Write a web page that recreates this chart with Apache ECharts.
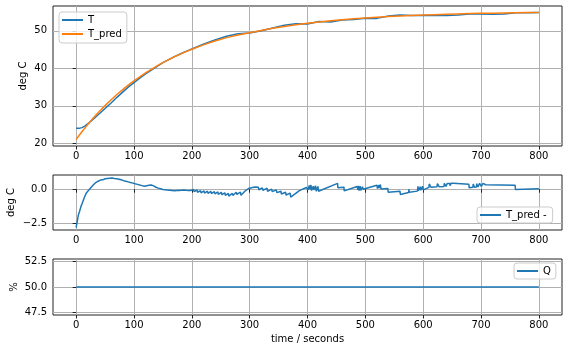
<!DOCTYPE html>
<html>
<head>
<meta charset="utf-8">
<script src="https://cdn.jsdelivr.net/npm/echarts@6/dist/echarts.min.js"></script>
<style>
html,body{margin:0;padding:0;background:#fff;}
#chart{width:568px;height:352px;}
</style>
</head>
<body>
<div id="chart"></div>
<script>
// ---- data ----
const xTicks = [0, 100, 200, 300, 400, 500, 600, 700, 800];
const yTicksT = [20, 30, 40, 50];
const yTicksErr = [-2.5, 0];
const yTicksQ = [47.5, 50, 52.5];

const tTime = [0,5,10,15,20,30,40,50,60,70,80,90,100,110,120,130,140,150,160,170,180,190,200,220,240,260,280,300,320,340,360,380,400,420,440,460,480,500,520,540,560,580,600,620,640,660,680,700,720,740,760,780,800];
const T = [24.0,24.0,24.2,24.6,25.2,26.5,27.9,29.3,30.7,32.2,33.6,35.0,36.2,37.4,38.5,39.5,40.5,41.5,42.3,43.1,43.8,44.5,45.15,46.4,47.55,48.55,49.2,49.4,50.0,50.75,51.5,51.9,51.8,52.45,52.35,52.9,53.0,53.35,53.3,53.95,54.2,54.1,54.05,54.05,54.05,54.2,54.5,54.45,54.4,54.45,54.8,54.82,54.85];

const predTime = [0,5,10,20,30,40,50,60,70,80,90,100,110,120,130,140,150,160,170,180,190,200,220,240,260,280,300,320,340,360,380,400,420,440,460,480,500,520,540,560,580,600,620,640,660,680,700,720,740,760,780,800];
const T_pred = [21.0,22.1,23.1,25.0,26.8,28.5,30.05,31.55,32.95,34.25,35.5,36.65,37.74,38.77,39.74,40.64,41.5,42.31,43.07,43.78,44.45,45.08,46.24,47.26,48.17,48.9,49.5,50.1,50.65,51.15,51.6,52.0,52.35,52.65,52.93,53.18,53.4,53.6,53.77,53.93,54.07,54.19,54.3,54.4,54.49,54.57,54.64,54.7,54.75,54.8,54.84,54.88];

const errTime = [0,2,4,6,8,10,12,14,16,18,20,22,24,26,28,30,32,34,36,38,40,42,44,46,48,50,52,54,56,58,60,62,64,66,68,70,72,74,76,78,80,82,84,86,88,90,92,94,96,98,100,102,104,106,108,110,112,114,116,118,120,122,124,126,128,130,132,134,136,138,140,142,144,146,148,150,152,154,156,158,160,162,164,166,168,170,172,174,176,178,180,182,184,186,188,190,192,194,196,198,200,
203,204,209,210,215,216,221,222,227,228,233,234,239,240,245,246,251,252,257,258,263,264,270,271,277,278,284,285,293,298,300,301,305,306,310,311,315,316,322,323,330,331,338,339,346,347,354,355,362,363,370,371,386,398,
400,401,403,404,406,407,410,411,414,415,418,419,452,452.5,463,463.5,486,487,488,489,491,492,495,496,520,521,523,524,526,527,539,539.5,560,560.5,575,575.3,576,590,591,592,595,596,599,600,
610,610.5,613,613.5,624,624.5,627,627.5,636,636.5,639,639.5,641,641.5,646,646.5,648,648.5,652,653,679,679.5,686,686.5,688,688.5,692,692.5,694,694.5,697,697.5,700,700.5,703,703.5,706,708,759,759.5,800];
const errValue = [-2.78,-2.3,-1.85,-1.6,-1.3,-1.08,-0.85,-0.62,-0.42,-0.25,-0.14,-0.06,0.06,0.14,0.24,0.32,0.42,0.48,0.55,0.58,0.63,0.66,0.70,0.68,0.75,0.76,0.80,0.78,0.83,0.80,0.84,0.81,0.85,0.78,0.82,0.76,0.80,0.72,0.74,0.68,0.71,0.62,0.66,0.58,0.60,0.53,0.56,0.48,0.51,0.44,0.46,0.39,0.42,0.35,0.37,0.30,0.33,0.26,0.29,0.22,0.27,0.25,0.33,0.28,0.35,0.30,0.33,0.24,0.22,0.14,0.16,0.08,0.10,0.03,0.06,-0.02,0.03,-0.04,0.02,-0.06,0.00,-0.08,-0.02,-0.10,-0.04,-0.12,-0.05,-0.10,-0.02,-0.09,0.00,-0.07,0.02,-0.06,0.01,-0.08,0.00,-0.09,-0.02,-0.10,-0.04,
-0.02,-0.18,-0.06,-0.22,-0.10,-0.26,-0.12,-0.28,-0.14,-0.30,-0.16,-0.32,-0.18,-0.34,-0.20,-0.38,-0.22,-0.40,-0.26,-0.44,-0.30,-0.50,-0.30,-0.45,-0.22,-0.38,-0.22,-0.44,-0.10,0.05,0.10,-0.02,0.12,0.00,0.16,0.02,0.14,-0.04,0.10,-0.08,0.08,-0.15,0.00,-0.18,-0.05,-0.25,-0.15,-0.35,-0.22,-0.42,-0.28,-0.57,-0.10,0.12,
0.20,-0.05,0.28,0.00,0.30,-0.10,0.22,-0.05,0.25,-0.15,0.20,-0.15,0.42,0.10,0.15,-0.12,0.20,-0.05,0.25,-0.10,0.22,-0.08,0.18,0.00,0.28,0.05,0.30,0.08,0.34,0.02,0.05,-0.22,-0.15,-0.38,-0.24,0.00,-0.22,-0.14,0.20,-0.10,0.18,-0.08,0.22,-0.05,
0.13,0.38,0.38,0.14,0.18,0.40,0.40,0.18,0.20,0.42,0.42,0.20,0.20,0.42,0.42,0.25,0.25,0.44,0.44,0.30,0.36,0.10,0.14,0.38,0.38,0.15,0.16,0.40,0.40,0.16,0.18,0.42,0.42,0.20,0.20,0.42,0.42,0.32,0.28,-0.02,0.03];

const qTime = [0, 800];
const Q = [50, 50];

// ---- chart ----
const FONT = 'DejaVu Sans';
const BLUE = '#1f77b4', ORANGE = '#ff7f0e';
const zip = (a, b) => a.map((v, i) => [v, b[i]]);
const fmtMinus = v => String(v).replace('-', '\u2212');

function xAxisFor(gridIndex, withName) {
  return {
    type: 'value', gridIndex, min: -40, max: 840,
    axisLine: {show: false},
    axisTick: {show: true, length: 3.5, lineStyle: {color: '#222', width: 1}, customValues: xTicks},
    axisLabel: {customValues: xTicks, color: '#000', fontFamily: FONT, fontSize: 10, margin: 5},
    splitLine: {show: true, lineStyle: {color: '#b0b0b0', width: 1}},
    name: withName ? 'time / seconds' : '',
    nameLocation: 'middle', nameGap: 19, nameMoveOverlap: false,
    nameTextStyle: {color: '#000', fontFamily: FONT, fontSize: 10}
  };
}
function yAxisFor(gridIndex, min, max, ticks, fmt, name, gap) {
  return {
    type: 'value', gridIndex, min, max,
    axisLine: {show: false},
    axisTick: {show: true, length: 3.5, lineStyle: {color: '#222', width: 1}, customValues: ticks},
    axisLabel: {customValues: ticks, formatter: fmt, color: '#000', fontFamily: FONT, fontSize: 10, margin: 6},
    splitLine: {show: true, lineStyle: {color: '#b0b0b0', width: 1}},
    name, nameLocation: 'middle', nameGap: gap, nameRotate: 90, nameMoveOverlap: false,
    nameTextStyle: {color: '#000', fontFamily: FONT, fontSize: 10}
  };
}
const legendBase = {
  icon: 'rect', itemWidth: 21, itemHeight: 2, itemGap: 4,
  borderColor: '#cccccc', borderWidth: 1, borderRadius: 3,
  backgroundColor: 'rgba(255,255,255,0.8)',
  textStyle: {color: '#000', fontFamily: FONT, fontSize: 10},
  selectedMode: false
};
const gridBase = {show: true, borderColor: '#222', borderWidth: 1, backgroundColor: 'transparent',
  containLabel: false, outerBoundsMode: 'none'};

const option = {
  animation: false,
  backgroundColor: '#fff',
  grid: [
    Object.assign({left: 53, top: 6, width: 509, height: 140}, gridBase),
    Object.assign({left: 53, top: 175, width: 509, height: 55}, gridBase),
    Object.assign({left: 53, top: 259, width: 509, height: 56}, gridBase)
  ],
  xAxis: [xAxisFor(0, false), xAxisFor(1, false), xAxisFor(2, true)],
  yAxis: [
    yAxisFor(0, 19.3, 56.6, yTicksT, v => String(v), 'deg C', 25),
    yAxisFor(1, -2.96, 1.03, yTicksErr, v => fmtMinus(v.toFixed(1)), 'deg C', 37),
    yAxisFor(2, 47.25, 52.75, yTicksQ, v => v.toFixed(1), '%', 34)
  ],
  legend: [
    Object.assign({}, legendBase, {orient: 'vertical', left: 59, top: 12, padding: [3, 5, 4, 3], data: ['T', 'T_pred']}),
    Object.assign({}, legendBase, {orient: 'vertical', left: 477, top: 207, padding: [3, 6, 3, 3], data: ['T_pred -']}),
    Object.assign({}, legendBase, {orient: 'vertical', left: 514, top: 263, padding: [3, 5, 3, 3], data: ['Q']})
  ],
  series: [
    {name: 'T', type: 'line', xAxisIndex: 0, yAxisIndex: 0, data: zip(tTime, T), showSymbol: false, symbol: 'none',
      lineStyle: {color: BLUE, width: 1.5}, itemStyle: {color: BLUE}},
    {name: 'T_pred', type: 'line', xAxisIndex: 0, yAxisIndex: 0, data: zip(predTime, T_pred), showSymbol: false, symbol: 'none',
      lineStyle: {color: ORANGE, width: 1.5}, itemStyle: {color: ORANGE}},
    {name: 'T_pred -', type: 'line', xAxisIndex: 1, yAxisIndex: 1, data: zip(errTime, errValue), showSymbol: false, symbol: 'none',
      lineStyle: {color: BLUE, width: 1.5}, itemStyle: {color: BLUE}},
    {name: 'Q', type: 'line', xAxisIndex: 2, yAxisIndex: 2, data: zip(qTime, Q), showSymbol: false, symbol: 'none',
      lineStyle: {color: BLUE, width: 1.5}, itemStyle: {color: BLUE}}
  ]
};
const chart = echarts.init(document.getElementById('chart'), null, {renderer: 'canvas'});
chart.setOption(option);
</script>
</body>
</html>
